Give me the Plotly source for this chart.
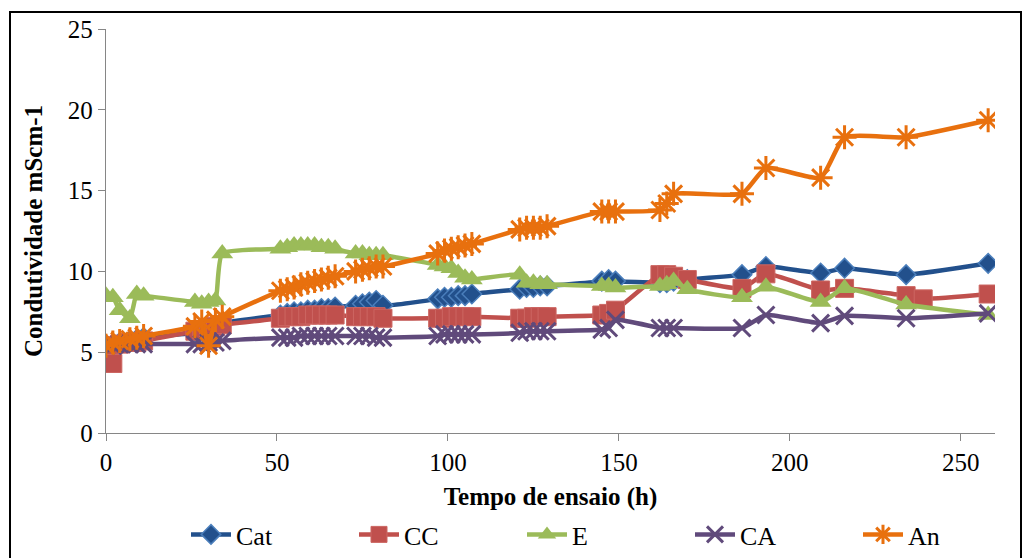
import plotly.graph_objects as go

# ---- data ----
t_cat = [0, 2, 4, 7, 9, 11, 26, 28, 30, 32, 34, 51, 53, 55, 57, 59, 61, 63, 65, 67,
         73, 75, 77, 79, 81, 97, 99, 101, 103, 105, 107, 121, 123, 125, 127, 129,
         145, 147, 149, 162, 164, 166, 170, 186, 193, 209, 216, 234, 258]
cat = [5.4, 5.5, 5.6, 5.7, 5.8, 5.9, 6.2, 6.3, 6.4, 6.6, 6.8,
       7.3, 7.4, 7.5, 7.5, 7.6, 7.6, 7.7, 7.7, 7.8,
       7.9, 8.0, 8.1, 8.2, 7.9,
       8.3, 8.4, 8.4, 8.5, 8.5, 8.6,
       8.9, 9.0, 9.0, 9.1, 9.1,
       9.4, 9.5, 9.4,
       9.3, 9.3, 9.4, 9.5,
       9.8, 10.3, 9.9, 10.2, 9.8, 10.5]

t_cc = [0, 2, 4, 7, 9, 11, 26, 28, 30, 32, 34, 51, 53, 55, 57, 59, 61, 63, 65, 67,
        73, 75, 77, 79, 81, 97, 99, 101, 103, 105, 107, 121, 123, 125, 127, 129,
        145, 147, 149, 162, 164, 166, 170, 186, 193, 209, 216, 234, 239, 258]
cc = [5.4, 4.3, 5.5, 5.6, 5.6, 5.7, 6.3, 6.4, 6.5, 6.6, 6.7,
      7.1, 7.2, 7.2, 7.2, 7.3, 7.3, 7.3, 7.3, 7.3,
      7.2, 7.2, 7.2, 7.2, 7.1,
      7.1, 7.1, 7.2, 7.2, 7.2, 7.2,
      7.1, 7.1, 7.2, 7.2, 7.2,
      7.3, 7.4, 7.6,
      9.8, 9.8, 9.7, 9.5,
      8.95, 9.85, 8.85, 8.95, 8.5, 8.3, 8.6]

t_e = [0, 2, 4, 7, 9, 11, 26, 28, 30, 32, 34, 51, 53, 55, 57, 59, 61, 63, 65, 67,
       73, 75, 77, 79, 81, 97, 99, 101, 103, 105, 107, 121, 123, 125, 127, 129,
       145, 147, 149, 162, 164, 166, 170, 186, 193, 209, 216, 234, 258]
e = [8.5, 8.4, 7.6, 7.1, 8.6, 8.5, 8.1, 8.0, 8.1, 8.2, 11.1,
     11.4, 11.5, 11.6, 11.6, 11.6, 11.6, 11.5, 11.5, 11.4,
     11.1, 11.1, 11.0, 11.0, 11.0,
     10.4, 10.3, 10.2, 9.9, 9.6, 9.5,
     9.8, 9.3, 9.3, 9.2, 9.2,
     9.1, 9.1, 9.0,
     9.1, 9.2, 9.4, 8.9,
     8.4, 9.05, 8.1, 8.95, 7.95, 7.3]

t_ca = [0, 2, 4, 7, 9, 11, 26, 28, 30, 32, 34, 51, 53, 55, 57, 59, 61, 63, 65, 67,
        73, 75, 77, 79, 81, 97, 99, 101, 103, 105, 107, 121, 123, 125, 127, 129,
        145, 147, 149, 162, 164, 166, 186, 193, 209, 216, 234, 258]
ca = [5.4, 5.4, 5.5, 5.5, 5.5, 5.5, 5.5, 5.5, 5.6, 5.6, 5.7,
      5.9, 5.9, 5.9, 6.0, 6.0, 6.0, 6.0, 6.0, 6.0,
      6.0, 6.0, 6.0, 5.9, 5.9,
      6.0, 6.1, 6.1, 6.1, 6.1, 6.1,
      6.2, 6.3, 6.3, 6.3, 6.3,
      6.4, 6.5, 7.0,
      6.5, 6.5, 6.5,
      6.5, 7.3, 6.8, 7.25, 7.1, 7.4]

t_an = [0, 2, 4, 7, 9, 11, 26, 28, 30, 32, 34, 51, 53, 55, 57, 59, 61, 63, 65, 67,
        73, 75, 77, 79, 81, 97, 99, 101, 103, 105, 107, 121, 123, 125, 127, 129,
        145, 147, 149, 162, 164, 166, 186, 193, 209, 216, 234, 258]
an = [5.4, 5.6, 5.7, 5.8, 5.9, 6.0, 6.6, 6.9, 5.4, 7.0, 7.2,
      8.8, 8.9, 9.0, 9.2, 9.3, 9.4, 9.5, 9.6, 9.7,
      10.0, 10.1, 10.2, 10.3, 10.3,
      11.1, 11.3, 11.4, 11.5, 11.6, 11.7,
      12.6, 12.7, 12.7, 12.7, 12.8,
      13.7, 13.7, 13.7,
      13.8, 14.2, 14.8,
      14.8, 16.4, 15.8, 18.3, 18.3, 19.35]

x_ticks = [0, 50, 100, 150, 200, 250]
y_ticks = [0, 5, 10, 15, 20, 25]

FONT = "Liberation Serif"

fig = go.Figure()

fig.add_trace(go.Scatter(
    x=t_cat, y=cat, name="Cat", mode="lines+markers",
    line=dict(color="#22508C", width=4.5, shape="spline", smoothing=0.5),
    marker=dict(symbol="diamond", size=15, color="#22508C",
                line=dict(color="#4A7EBB", width=1.5))))
fig.add_trace(go.Scatter(
    x=t_cc, y=cc, name="CC", mode="lines+markers",
    line=dict(color="#C0504D", width=4.5, shape="spline", smoothing=0.5),
    marker=dict(symbol="square", size=18, color="#C0504D",
                line=dict(color="#CC6662", width=1))))
fig.add_trace(go.Scatter(
    x=t_e, y=e, name="E", mode="lines+markers",
    line=dict(color="#9BBB59", width=4.5, shape="spline", smoothing=0.5),
    marker=dict(symbol="triangle-up", size=19, color="#9BBB59",
                line=dict(color="#9BBB59", width=0))))
fig.add_trace(go.Scatter(
    x=t_ca, y=ca, name="CA", mode="lines+markers",
    line=dict(color="#604A7B", width=4.5, shape="spline", smoothing=0.5),
    marker=dict(symbol="x-thin-open", size=17, color="#604A7B",
                line=dict(color="#604A7B", width=3))))
fig.add_trace(go.Scatter(
    x=t_an, y=an, name="An", mode="lines+markers",
    line=dict(color="#E8700E", width=4.5, shape="spline", smoothing=0.5),
    marker=dict(symbol="asterisk-open", size=20, color="#E8700E",
                line=dict(color="#E8700E", width=3))))

fig.update_layout(
    width=1027, height=558,
    margin=dict(l=106, r=32, t=29, b=125, autoexpand=False),
    paper_bgcolor="white", plot_bgcolor="white",
    font=dict(family=FONT, size=25, color="black"),
    showlegend=True,
    legend=dict(orientation="h", xref="container", yref="container",
                x=186 / 1027, xanchor="left", y=(558 - 511) / 558, yanchor="top",
                font=dict(family=FONT, size=26, color="black"),
                entrywidth=113, entrywidthmode="pixels",
                itemwidth=40, traceorder="normal",
                bgcolor="rgba(0,0,0,0)"),
    xaxis=dict(range=[0, 260], tickvals=x_ticks, ticktext=[str(v) for v in x_ticks],
               showgrid=False, zeroline=False, showline=True, linecolor="#868686",
               linewidth=1.3, ticks="outside", ticklen=7, tickcolor="#868686",
               tickfont=dict(family=FONT, size=25, color="black"),
               title=dict(text="<b>Tempo de ensaio (h)</b>", standoff=14,
                          font=dict(family=FONT, size=25, color="black"))),
    yaxis=dict(range=[0, 25], tickvals=y_ticks, ticktext=[str(v) for v in y_ticks],
               showgrid=False, zeroline=False, showline=True, linecolor="#868686",
               linewidth=1.3, ticks="outside", ticklen=7, tickcolor="#868686",
               tickfont=dict(family=FONT, size=25, color="black"),
               title=dict(text="<b>Condutividade mScm-1</b>", standoff=18,
                          font=dict(family=FONT, size=25, color="black"))),
    shapes=[dict(type="rect", xref="paper", yref="paper",
                 x0=(10 - 106) / 889, x1=(1021 - 106) / 889,
                 y0=(433 - 570) / 404, y1=(433 - 12) / 404,
                 line=dict(color="black", width=2), fillcolor="rgba(0,0,0,0)",
                 layer="below")],
)

fig.write_html("out.html")
